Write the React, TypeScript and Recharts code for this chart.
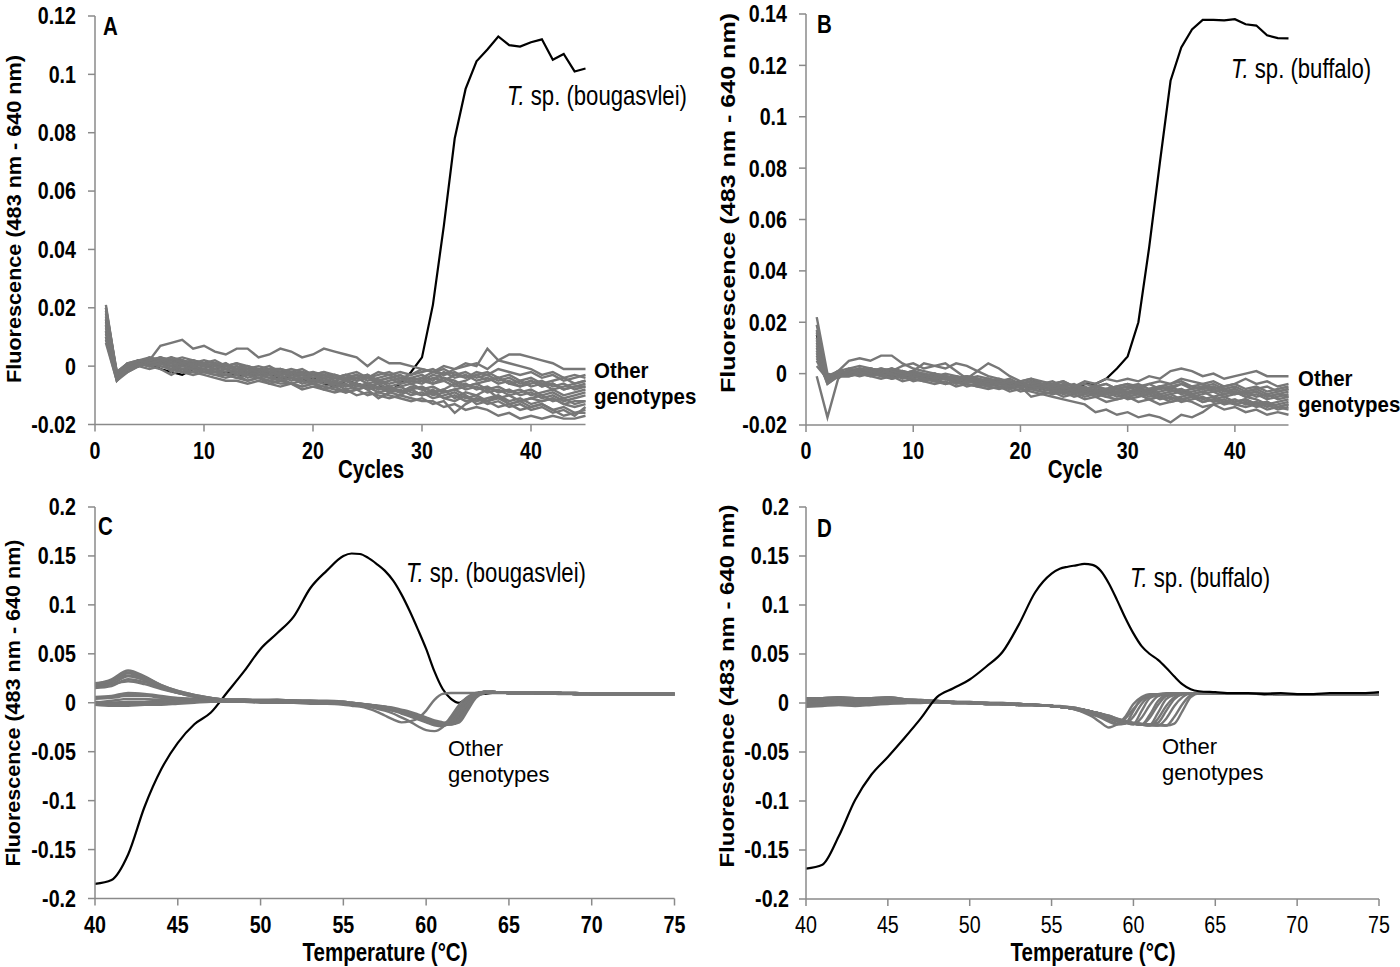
import { LineChart, Line, XAxis, YAxis } from "recharts";

// ---- panel A / B : amplification (cycles) ----
const cycles = [
  1, 2, 3, 4, 5, 6, 7, 8, 9, 10, 11, 12, 13, 14, 15, 16, 17, 18, 19, 20, 21, 22, 23,
  24, 25, 26, 27, 28, 29, 30, 31, 32, 33, 34, 35, 36, 37, 38, 39, 40, 41, 42, 43, 44, 45,
];

const aBougasvlei = [
  0.016, -0.003, -0.001, 0.0, 0.001, -0.001, -0.002, -0.003, -0.001, -0.001,
  -0.002, -0.002, -0.003, -0.003, -0.002, -0.003, -0.004, -0.004, -0.005, -0.004,
  -0.006, -0.007, -0.005, -0.006, -0.007, -0.006, -0.009, -0.006, -0.002, 0.003,
  0.021, 0.048, 0.078, 0.095, 0.1045, 0.1085, 0.113, 0.11, 0.1095, 0.111,
  0.112, 0.105, 0.107, 0.101, 0.102,
];

const aOthers = [
  [0.012, -0.004, 0.0, 0.001, 0.002, 0.007, 0.008, 0.009, 0.006, 0.007, 0.005, 0.004, 0.006, 0.006, 0.003, 0.004, 0.006, 0.005, 0.003, 0.004, 0.006, 0.005, 0.004, 0.003, 0.0, 0.003, 0.001, 0.001, 0.0, -0.001, -0.002, -0.001, -0.003, -0.002, -0.004, -0.003, -0.005, -0.004, -0.006, -0.005, -0.007, -0.006, -0.008, -0.007, -0.006],
  [0.02, -0.003, 0.001, 0.002, 0.001, 0.002, 0.001, 0.002, 0.0, 0.001, -0.001, 0.0, -0.001, -0.002, -0.001, -0.002, -0.003, -0.002, -0.003, -0.004, -0.003, -0.005, -0.004, -0.003, -0.004, -0.002, -0.003, -0.002, -0.003, -0.001, -0.002, 0.0, -0.001, 0.001, 0.0, 0.006, 0.002, 0.004, 0.004, 0.003, 0.002, 0.001, -0.001, -0.001, -0.001],
  [0.009, -0.005, -0.002, 0.0, 0.001, 0.0, -0.001, -0.002, -0.002, -0.003, -0.004, -0.005, -0.005, -0.006, -0.005, -0.006, -0.007, -0.006, -0.008, -0.007, -0.008, -0.009, -0.008, -0.01, -0.009, -0.01, -0.011, -0.01, -0.011, -0.012, -0.012, -0.014, -0.013, -0.015, -0.014, -0.015, -0.017, -0.016, -0.018, -0.017, -0.018, -0.017, -0.018, -0.018, -0.017],
  [0.014, -0.004, -0.001, 0.001, 0.002, 0.001, 0.0, -0.001, -0.001, -0.002, -0.003, -0.003, -0.004, -0.005, -0.004, -0.005, -0.006, -0.006, -0.007, -0.006, -0.007, -0.008, -0.009, -0.008, -0.01, -0.009, -0.01, -0.011, -0.012, -0.011, -0.013, -0.012, -0.016, -0.013, -0.011, -0.012, -0.01, -0.013, -0.012, -0.014, -0.013, -0.015, -0.014, -0.016, -0.015],
  [0.018, -0.003, 0.0, 0.002, 0.001, 0.003, 0.002, 0.001, 0.002, 0.001, 0.0, 0.001, -0.001, 0.0, -0.002, -0.001, -0.002, -0.003, -0.002, -0.004, -0.003, -0.004, -0.005, -0.004, -0.006, -0.005, -0.007, -0.006, -0.005, -0.006, -0.004, -0.005, -0.003, -0.004, -0.002, -0.003, -0.001, -0.002, -0.003, -0.002, -0.004, -0.003, -0.005, -0.004, -0.003],
  [0.011, -0.004, -0.001, 0.001, 0.0, 0.002, -0.002, 0.001, 0.0, -0.001, 0.001, -0.001, -0.002, -0.001, -0.003, -0.002, -0.004, -0.003, -0.004, -0.005, -0.004, -0.006, -0.005, -0.007, -0.006, -0.008, -0.007, -0.009, -0.008, -0.007, -0.009, -0.008, -0.006, -0.008, -0.007, -0.009, -0.008, -0.01, -0.009, -0.008, -0.01, -0.009, -0.011, -0.01, -0.009],
  [0.016, -0.002, 0.001, 0.0, 0.002, 0.001, 0.003, 0.002, 0.001, 0.002, 0.001, 0.0, 0.001, -0.001, 0.0, -0.001, -0.001, -0.002, -0.001, -0.003, -0.002, -0.003, -0.004, -0.003, -0.005, -0.004, -0.003, -0.005, -0.004, -0.003, -0.005, -0.002, -0.004, -0.003, -0.005, -0.004, -0.006, -0.005, -0.007, -0.006, -0.005, -0.007, -0.006, -0.008, -0.007],
  [0.013, -0.003, 0.0, 0.001, 0.0, 0.001, 0.0, -0.002, 0.0, -0.001, -0.002, -0.001, -0.003, -0.002, -0.003, -0.004, -0.003, -0.005, -0.004, -0.005, -0.006, -0.005, -0.007, -0.006, -0.008, -0.007, -0.009, -0.008, -0.01, -0.009, -0.011, -0.01, -0.009, -0.011, -0.01, -0.012, -0.011, -0.013, -0.012, -0.011, -0.012, -0.011, -0.013, -0.012, -0.012],
  [0.019, -0.002, 0.001, 0.002, 0.003, 0.002, 0.001, 0.002, 0.001, 0.0, 0.001, -0.001, 0.0, -0.002, -0.001, -0.002, -0.001, -0.003, -0.002, -0.003, -0.004, -0.003, -0.005, -0.004, -0.003, -0.005, -0.004, -0.006, -0.005, -0.004, -0.006, -0.005, -0.007, -0.006, -0.008, -0.007, -0.009, -0.008, -0.01, -0.009, -0.011, -0.01, -0.012, -0.011, -0.01],
  [0.01, -0.004, -0.002, 0.0, -0.001, 0.0, -0.001, -0.002, -0.003, -0.002, -0.003, -0.004, -0.003, -0.005, -0.004, -0.006, -0.005, -0.006, -0.007, -0.006, -0.008, -0.007, -0.009, -0.008, -0.007, -0.009, -0.008, -0.007, -0.009, -0.01, -0.008, -0.011, -0.01, -0.012, -0.011, -0.013, -0.012, -0.014, -0.013, -0.015, -0.014, -0.016, -0.015, -0.017, -0.014],
  [0.021, -0.003, 0.001, 0.001, 0.002, 0.003, 0.002, 0.003, 0.002, 0.001, 0.002, 0.0, 0.001, 0.0, -0.001, 0.0, -0.002, -0.001, -0.002, -0.003, -0.002, -0.004, -0.003, -0.002, -0.004, -0.003, -0.002, -0.004, -0.003, -0.002, -0.001, -0.003, -0.001, 0.0, 0.001, -0.001, 0.002, 0.001, 0.0, -0.001, -0.003, -0.002, -0.004, -0.003, -0.004],
  [0.008, -0.005, -0.001, 0.001, 0.0, -0.001, -0.003, -0.001, -0.002, -0.001, -0.002, -0.003, -0.002, -0.004, -0.003, -0.004, -0.005, -0.004, -0.006, -0.005, -0.005, -0.006, -0.007, -0.006, -0.008, -0.011, -0.009, -0.01, -0.008, -0.01, -0.009, -0.011, -0.012, -0.01, -0.013, -0.012, -0.014, -0.013, -0.015, -0.014, -0.013, -0.015, -0.017, -0.016, -0.016],
  [0.015, -0.004, 0.0, 0.002, 0.002, 0.001, 0.002, 0.0, 0.001, 0.0, -0.001, -0.002, -0.001, -0.003, -0.002, -0.003, -0.002, -0.004, -0.003, -0.005, -0.004, -0.006, -0.005, -0.006, -0.007, -0.006, -0.008, -0.007, -0.006, -0.008, -0.007, -0.009, -0.008, -0.007, -0.006, -0.008, -0.007, -0.009, -0.008, -0.01, -0.009, -0.008, -0.01, -0.009, -0.008],
  [0.017, -0.003, 0.001, 0.001, 0.003, 0.002, 0.0, 0.001, -0.001, 0.0, -0.001, 0.001, -0.002, -0.001, -0.002, -0.003, -0.002, -0.003, -0.004, -0.003, -0.005, -0.004, -0.003, -0.005, -0.004, -0.006, -0.005, -0.004, -0.006, -0.005, -0.003, -0.004, -0.006, -0.005, -0.003, -0.005, -0.004, -0.006, -0.005, -0.007, -0.006, -0.008, -0.007, -0.006, -0.005],
  [0.012, -0.005, -0.001, 0.0, 0.001, 0.002, 0.001, -0.001, 0.0, -0.002, -0.001, -0.003, -0.002, -0.003, -0.004, -0.003, -0.005, -0.004, -0.005, -0.006, -0.005, -0.007, -0.006, -0.008, -0.007, -0.006, -0.008, -0.009, -0.008, -0.01, -0.009, -0.008, -0.011, -0.009, -0.01, -0.008, -0.011, -0.01, -0.012, -0.011, -0.01, -0.012, -0.011, -0.013, -0.012],
  [0.02, -0.002, 0.0, 0.001, 0.002, 0.003, 0.001, 0.002, 0.0, 0.001, 0.0, -0.001, 0.0, -0.001, -0.002, -0.001, -0.003, -0.002, -0.003, -0.002, -0.004, -0.003, -0.004, -0.005, -0.004, -0.005, -0.006, -0.005, -0.004, -0.005, -0.006, -0.004, -0.005, -0.007, -0.006, -0.005, -0.004, -0.006, -0.007, -0.005, -0.007, -0.006, -0.008, -0.007, -0.007],
  [0.01, -0.004, -0.001, 0.001, 0.0, 0.001, -0.001, 0.0, -0.001, -0.002, -0.002, -0.003, -0.004, -0.003, -0.004, -0.005, -0.004, -0.006, -0.005, -0.006, -0.007, -0.006, -0.008, -0.007, -0.006, -0.008, -0.007, -0.009, -0.007, -0.008, -0.01, -0.009, -0.008, -0.01, -0.012, -0.011, -0.01, -0.012, -0.011, -0.013, -0.012, -0.011, -0.013, -0.014, -0.013],
  [0.014, -0.003, 0.0, 0.002, 0.001, 0.002, 0.003, 0.001, 0.002, 0.0, 0.001, 0.0, -0.001, 0.0, -0.001, -0.002, -0.001, -0.002, -0.003, -0.002, -0.003, -0.004, -0.003, -0.004, -0.003, -0.005, -0.004, -0.003, -0.005, -0.004, -0.002, -0.003, -0.002, -0.004, -0.003, -0.002, -0.004, -0.003, -0.005, -0.004, -0.006, -0.005, -0.004, -0.006, -0.005],
];

const bBuffalo = [
  0.015, -0.001, -0.001, 0.0, 0.0, 0.001, 0.0, -0.001, -0.001, -0.001,
  -0.002, -0.002, -0.002, -0.003, -0.003, -0.003, -0.004, -0.004, -0.004, -0.005,
  -0.005, -0.006, -0.005, -0.006, -0.007, -0.004, -0.004, -0.002, 0.002, 0.0067,
  0.02, 0.049, 0.082, 0.114, 0.127, 0.134, 0.1377, 0.1377, 0.1375, 0.138,
  0.136, 0.1355, 0.1317, 0.1306, 0.1305,
];

const bOthers = [
  [0.003, -0.002, 0.001, 0.005, 0.006, 0.005, 0.007, 0.007, 0.004, 0.002, 0.001, 0.0, -0.001, -0.002, -0.001, -0.002, -0.003, -0.003, -0.004, -0.005, -0.004, -0.006, -0.005, -0.006, -0.005, -0.007, -0.006, -0.007, -0.006, -0.008, -0.007, -0.006, -0.008, -0.007, -0.006, -0.008, -0.007, -0.009, -0.008, -0.007, -0.009, -0.008, -0.01, -0.009, -0.008],
  [-0.001, -0.017, -0.002, 0.002, 0.003, 0.002, 0.001, 0.002, 0.0, 0.001, 0.004, 0.003, 0.002, 0.004, 0.003, 0.001, -0.001, -0.002, -0.004, -0.003, -0.005, -0.004, -0.006, -0.005, -0.007, -0.006, -0.008, -0.007, -0.009, -0.008, -0.006, -0.007, -0.005, -0.006, -0.004, -0.005, -0.006, -0.005, -0.007, -0.006, -0.008, -0.007, -0.009, -0.008, -0.009],
  [0.022, 0.0, -0.001, 0.001, 0.002, 0.001, 0.002, 0.001, 0.003, 0.004, 0.002, 0.003, 0.004, 0.001, -0.002, 0.001, 0.004, 0.002, -0.001, -0.003, -0.002, -0.004, -0.003, -0.005, -0.004, -0.006, -0.005, -0.004, -0.006, -0.005, -0.007, -0.006, -0.005, -0.007, -0.006, -0.008, -0.007, -0.006, -0.008, -0.007, -0.009, -0.01, -0.012, -0.011, -0.01],
  [0.01, -0.003, 0.0, 0.0, 0.001, 0.0, 0.001, -0.001, 0.0, -0.001, -0.002, -0.001, -0.002, -0.003, -0.002, -0.003, -0.004, -0.003, -0.004, -0.003, -0.002, -0.003, -0.004, -0.003, -0.005, -0.003, -0.004, -0.002, -0.003, -0.002, -0.003, -0.001, -0.002, 0.001, 0.002, 0.001, -0.001, 0.0, -0.002, -0.001, 0.0, 0.001, -0.001, -0.001, -0.001],
  [0.008, -0.004, -0.001, 0.0, -0.001, 0.0, -0.001, -0.002, -0.001, -0.002, -0.003, -0.002, -0.004, -0.003, -0.004, -0.005, -0.004, -0.005, -0.006, -0.005, -0.009, -0.008, -0.009, -0.01, -0.011, -0.012, -0.015, -0.014, -0.016, -0.015, -0.017, -0.016, -0.017, -0.019, -0.016, -0.017, -0.015, -0.012, -0.011, -0.012, -0.013, -0.012, -0.014, -0.013, -0.014],
  [0.006, -0.002, -0.001, 0.001, 0.0, -0.001, -0.002, -0.001, -0.003, -0.002, -0.003, -0.004, -0.003, -0.005, -0.004, -0.005, -0.006, -0.005, -0.007, -0.006, -0.007, -0.008, -0.007, -0.009, -0.008, -0.01, -0.009, -0.011, -0.01, -0.009, -0.011, -0.01, -0.012, -0.011, -0.01, -0.011, -0.013, -0.012, -0.014, -0.013, -0.015, -0.014, -0.016, -0.015, -0.016],
  [0.012, -0.001, 0.0, 0.001, 0.002, 0.001, 0.0, 0.001, -0.001, 0.0, -0.001, -0.002, -0.001, -0.002, -0.003, -0.002, -0.003, -0.004, -0.003, -0.005, -0.004, -0.005, -0.006, -0.005, -0.006, -0.007, -0.006, -0.008, -0.007, -0.006, -0.005, -0.007, -0.006, -0.005, -0.007, -0.006, -0.005, -0.007, -0.006, -0.008, -0.007, -0.006, -0.008, -0.007, -0.006],
  [0.017, -0.002, 0.001, 0.0, 0.001, 0.002, 0.001, 0.0, 0.001, -0.001, 0.0, -0.001, -0.002, -0.001, -0.003, -0.002, -0.004, -0.003, -0.005, -0.004, -0.006, -0.005, -0.007, -0.006, -0.008, -0.007, -0.009, -0.008, -0.007, -0.009, -0.008, -0.01, -0.009, -0.008, -0.01, -0.009, -0.011, -0.01, -0.009, -0.011, -0.01, -0.012, -0.011, -0.013, -0.012],
  [0.014, -0.002, 0.0, 0.001, 0.0, 0.002, 0.001, 0.0, 0.001, 0.0, -0.001, 0.0, -0.001, -0.002, -0.001, -0.003, -0.002, -0.003, -0.004, -0.004, -0.003, -0.005, -0.004, -0.005, -0.006, -0.005, -0.007, -0.006, -0.005, -0.004, -0.006, -0.004, -0.003, -0.004, -0.002, -0.003, -0.004, -0.003, -0.005, -0.004, -0.002, -0.004, -0.003, -0.005, -0.004],
  [0.005, -0.003, -0.001, -0.001, 0.0, -0.001, 0.0, -0.002, -0.001, -0.003, -0.002, -0.003, -0.004, -0.003, -0.005, -0.004, -0.005, -0.006, -0.005, -0.007, -0.006, -0.007, -0.008, -0.007, -0.009, -0.008, -0.007, -0.009, -0.008, -0.01, -0.009, -0.008, -0.01, -0.009, -0.011, -0.01, -0.009, -0.011, -0.01, -0.012, -0.011, -0.013, -0.012, -0.014, -0.013],
  [0.013, -0.002, 0.0, 0.001, 0.001, 0.002, 0.001, 0.0, 0.0, -0.001, -0.001, -0.002, -0.001, -0.003, -0.002, -0.003, -0.004, -0.003, -0.005, -0.004, -0.005, -0.006, -0.005, -0.007, -0.006, -0.007, -0.008, -0.007, -0.006, -0.007, -0.008, -0.007, -0.009, -0.008, -0.007, -0.009, -0.008, -0.007, -0.009, -0.008, -0.007, -0.009, -0.008, -0.01, -0.009],
  [0.009, -0.003, -0.001, 0.0, 0.001, 0.0, 0.001, 0.0, -0.001, 0.0, -0.002, -0.001, -0.002, -0.003, -0.002, -0.004, -0.003, -0.004, -0.005, -0.004, -0.006, -0.005, -0.006, -0.007, -0.006, -0.008, -0.007, -0.006, -0.008, -0.007, -0.006, -0.008, -0.007, -0.006, -0.008, -0.007, -0.006, -0.005, -0.007, -0.006, -0.008, -0.007, -0.009, -0.008, -0.007],
  [0.016, -0.001, 0.001, 0.002, 0.001, 0.0, 0.001, 0.002, 0.0, 0.001, 0.0, -0.001, 0.0, -0.001, -0.002, -0.001, -0.002, -0.003, -0.002, -0.004, -0.003, -0.004, -0.005, -0.004, -0.005, -0.006, -0.005, -0.004, -0.006, -0.005, -0.004, -0.006, -0.005, -0.004, -0.003, -0.005, -0.004, -0.006, -0.005, -0.004, -0.006, -0.005, -0.007, -0.006, -0.005],
  [0.007, -0.004, -0.001, -0.001, 0.0, 0.001, -0.001, 0.0, -0.002, -0.001, -0.002, -0.003, -0.002, -0.004, -0.003, -0.004, -0.005, -0.004, -0.006, -0.005, -0.006, -0.007, -0.006, -0.008, -0.007, -0.009, -0.008, -0.009, -0.01, -0.009, -0.008, -0.01, -0.009, -0.011, -0.01, -0.009, -0.011, -0.01, -0.012, -0.011, -0.01, -0.012, -0.011, -0.013, -0.012],
  [0.011, -0.002, 0.0, 0.001, 0.0, 0.001, 0.002, 0.001, 0.0, 0.001, -0.001, 0.0, -0.001, -0.002, -0.001, -0.002, -0.003, -0.002, -0.003, -0.004, -0.003, -0.005, -0.004, -0.003, -0.005, -0.004, -0.005, -0.006, -0.005, -0.004, -0.005, -0.004, -0.006, -0.005, -0.004, -0.006, -0.005, -0.004, -0.006, -0.005, -0.007, -0.006, -0.005, -0.007, -0.006],
  [0.019, -0.002, 0.001, 0.0, 0.002, 0.001, 0.0, 0.002, 0.001, 0.0, -0.001, 0.0, -0.002, -0.001, -0.002, -0.003, -0.002, -0.004, -0.003, -0.004, -0.005, -0.004, -0.006, -0.005, -0.007, -0.006, -0.005, -0.007, -0.006, -0.008, -0.007, -0.009, -0.008, -0.01, -0.009, -0.008, -0.01, -0.009, -0.011, -0.01, -0.012, -0.011, -0.013, -0.012, -0.011],
];

// ---- panel C / D : melting curves (temperature) ----
const temps = [
  40, 41, 42, 43, 44, 45, 46, 47, 48, 49, 50, 51, 52, 53, 54, 55,
  55.5, 56, 56.5, 57, 57.5, 58, 58.5, 59, 59.5, 60, 60.5, 61, 61.5, 62, 62.5, 63, 63.5, 64,
  65, 66, 67, 68, 69, 70, 71, 72, 73, 74, 75,
];

const cBougasvlei = [
  -0.185, -0.181, -0.155, -0.106, -0.068, -0.041, -0.022, -0.01, 0.011, 0.032, 0.055, 0.071, 0.088, 0.117, 0.135, 0.15,
  0.1525, 0.152, 0.148, 0.142, 0.135, 0.125, 0.111, 0.094, 0.075, 0.055, 0.032, 0.014, 0.004, 0.0, 0.005, 0.008, 0.009, 0.01,
  0.01, 0.01, 0.009, 0.009, 0.009, 0.009, 0.009, 0.009, 0.009, 0.009, 0.009,
];

const cOthers = [
  [0.019, 0.024, 0.033, 0.027, 0.018, 0.012, 0.008, 0.005, 0.003, 0.003, 0.003, 0.003, 0.002, 0.002, 0.002, 0.001, 0.0, -0.001, -0.002, -0.003, -0.005, -0.007, -0.01, -0.013, -0.016, -0.019, -0.021, -0.022, -0.019, -0.009, 0.002, 0.009, 0.011, 0.011, 0.01, 0.01, 0.01, 0.01, 0.009, 0.009, 0.009, 0.009, 0.009, 0.009, 0.009],
  [0.017, 0.021, 0.03, 0.025, 0.017, 0.011, 0.007, 0.004, 0.003, 0.003, 0.002, 0.003, 0.002, 0.002, 0.001, 0.001, 0.0, -0.001, -0.002, -0.003, -0.004, -0.006, -0.008, -0.011, -0.014, -0.017, -0.02, -0.022, -0.022, -0.015, -0.003, 0.007, 0.011, 0.011, 0.01, 0.01, 0.01, 0.009, 0.009, 0.009, 0.009, 0.009, 0.009, 0.009, 0.008],
  [0.016, 0.019, 0.027, 0.023, 0.016, 0.01, 0.006, 0.004, 0.003, 0.002, 0.002, 0.002, 0.002, 0.001, 0.001, 0.0, -0.001, -0.002, -0.003, -0.004, -0.006, -0.008, -0.011, -0.014, -0.017, -0.02, -0.023, -0.024, -0.018, -0.006, 0.004, 0.009, 0.011, 0.011, 0.01, 0.01, 0.01, 0.01, 0.01, 0.009, 0.009, 0.009, 0.009, 0.009, 0.009],
  [0.015, 0.017, 0.024, 0.021, 0.015, 0.01, 0.006, 0.004, 0.002, 0.002, 0.002, 0.001, 0.001, 0.001, 0.0, 0.0, -0.001, -0.002, -0.003, -0.004, -0.005, -0.007, -0.009, -0.012, -0.015, -0.018, -0.021, -0.023, -0.02, -0.011, 0.001, 0.008, 0.011, 0.011, 0.01, 0.01, 0.01, 0.01, 0.009, 0.009, 0.009, 0.009, 0.009, 0.009, 0.009],
  [0.018, 0.019, 0.022, 0.019, 0.014, 0.01, 0.007, 0.005, 0.003, 0.003, 0.002, 0.002, 0.002, 0.001, 0.001, 0.0, -0.001, -0.002, -0.003, -0.004, -0.006, -0.008, -0.01, -0.013, -0.016, -0.019, -0.022, -0.023, -0.021, -0.013, -0.001, 0.007, 0.01, 0.011, 0.01, 0.01, 0.01, 0.01, 0.009, 0.009, 0.009, 0.009, 0.009, 0.009, 0.009],
  [0.006, 0.007, 0.01, 0.009, 0.007, 0.005, 0.004, 0.003, 0.002, 0.002, 0.001, 0.001, 0.001, 0.001, 0.0, 0.0, -0.001, -0.001, -0.002, -0.003, -0.004, -0.005, -0.007, -0.009, -0.012, -0.015, -0.018, -0.02, -0.022, -0.02, -0.008, 0.005, 0.01, 0.011, 0.01, 0.01, 0.01, 0.01, 0.01, 0.009, 0.009, 0.009, 0.009, 0.009, 0.009],
  [0.004, 0.005, 0.007, 0.007, 0.005, 0.004, 0.003, 0.002, 0.002, 0.001, 0.001, 0.001, 0.0, 0.0, 0.0, -0.001, -0.002, -0.003, -0.004, -0.005, -0.006, -0.008, -0.01, -0.013, -0.016, -0.019, -0.021, -0.021, -0.016, -0.005, 0.004, 0.009, 0.011, 0.011, 0.01, 0.01, 0.01, 0.01, 0.009, 0.009, 0.009, 0.009, 0.009, 0.009, 0.009],
  [-0.001, -0.002, -0.002, -0.001, -0.001, 0.0, 0.001, 0.001, 0.001, 0.001, 0.001, 0.0, 0.0, 0.0, -0.001, -0.001, -0.002, -0.002, -0.003, -0.004, -0.005, -0.007, -0.009, -0.011, -0.014, -0.017, -0.019, -0.021, -0.021, -0.013, -0.001, 0.008, 0.011, 0.011, 0.01, 0.01, 0.01, 0.01, 0.01, 0.009, 0.009, 0.009, 0.009, 0.009, 0.009],
  [-0.002, -0.003, -0.003, -0.002, -0.002, -0.001, 0.0, 0.001, 0.001, 0.001, 0.0, 0.0, 0.0, -0.001, -0.001, -0.002, -0.003, -0.004, -0.006, -0.009, -0.013, -0.017, -0.02, -0.019, -0.016, -0.008, 0.003, 0.009, 0.01, 0.01, 0.01, 0.01, 0.01, 0.01, 0.01, 0.01, 0.01, 0.01, 0.01, 0.009, 0.009, 0.009, 0.009, 0.009, 0.009],
  [0.001, 0.0, 0.001, 0.001, 0.002, 0.002, 0.002, 0.002, 0.002, 0.001, 0.001, 0.001, 0.001, 0.0, 0.0, -0.001, -0.002, -0.003, -0.004, -0.006, -0.008, -0.011, -0.015, -0.019, -0.024, -0.028, -0.029, -0.025, -0.014, -0.002, 0.006, 0.01, 0.011, 0.011, 0.01, 0.01, 0.01, 0.01, 0.009, 0.009, 0.009, 0.009, 0.009, 0.009, 0.009],
  [0.0, 0.002, 0.004, 0.004, 0.003, 0.003, 0.002, 0.002, 0.001, 0.001, 0.001, 0.001, 0.001, 0.0, 0.0, -0.001, -0.001, -0.002, -0.003, -0.004, -0.005, -0.006, -0.008, -0.011, -0.014, -0.017, -0.02, -0.022, -0.022, -0.018, -0.006, 0.006, 0.01, 0.011, 0.01, 0.01, 0.01, 0.01, 0.009, 0.009, 0.009, 0.009, 0.009, 0.009, 0.009],
  [0.018, 0.022, 0.031, 0.026, 0.018, 0.012, 0.008, 0.005, 0.003, 0.003, 0.002, 0.002, 0.002, 0.002, 0.001, 0.001, 0.0, -0.001, -0.002, -0.003, -0.004, -0.006, -0.009, -0.012, -0.015, -0.018, -0.021, -0.023, -0.021, -0.012, 0.0, 0.008, 0.011, 0.011, 0.01, 0.01, 0.01, 0.01, 0.009, 0.009, 0.009, 0.009, 0.009, 0.009, 0.009],
  [0.005, 0.006, 0.009, 0.008, 0.006, 0.004, 0.003, 0.002, 0.002, 0.001, 0.001, 0.001, 0.001, 0.0, 0.0, 0.0, -0.001, -0.002, -0.003, -0.004, -0.005, -0.007, -0.009, -0.012, -0.015, -0.018, -0.021, -0.022, -0.02, -0.01, 0.002, 0.009, 0.011, 0.011, 0.01, 0.01, 0.01, 0.01, 0.009, 0.009, 0.009, 0.009, 0.009, 0.009, 0.009],
  [0.0, -0.001, -0.001, 0.0, 0.0, 0.001, 0.001, 0.001, 0.001, 0.001, 0.001, 0.001, 0.0, 0.0, 0.0, -0.001, -0.001, -0.002, -0.003, -0.004, -0.005, -0.006, -0.008, -0.01, -0.013, -0.016, -0.019, -0.021, -0.022, -0.017, -0.005, 0.007, 0.01, 0.011, 0.01, 0.01, 0.01, 0.01, 0.009, 0.009, 0.009, 0.009, 0.009, 0.009, 0.009],
  [0.02, 0.022, 0.028, 0.024, 0.017, 0.011, 0.007, 0.004, 0.003, 0.003, 0.002, 0.002, 0.002, 0.001, 0.001, 0.0, -0.001, -0.002, -0.003, -0.004, -0.005, -0.007, -0.01, -0.013, -0.016, -0.019, -0.022, -0.022, -0.017, -0.007, 0.003, 0.009, 0.011, 0.011, 0.01, 0.01, 0.01, 0.01, 0.009, 0.009, 0.009, 0.009, 0.009, 0.009, 0.009],
];

const dBuffalo = [
  -0.169, -0.165, -0.136, -0.099, -0.073, -0.055, -0.036, -0.016, 0.006, 0.015, 0.024, 0.037, 0.052, 0.08, 0.113, 0.132,
  0.137, 0.139, 0.1405, 0.142, 0.141, 0.135, 0.122, 0.105, 0.087, 0.071, 0.058, 0.05, 0.044, 0.036, 0.027, 0.019, 0.014, 0.012,
  0.011, 0.01, 0.01, 0.009, 0.01, 0.009, 0.009, 0.01, 0.01, 0.01, 0.011,
];

const dOthers = [
  [0.005, 0.005, 0.006, 0.005, 0.005, 0.006, 0.004, 0.003, 0.002, 0.001, 0.001, 0.0, 0.0, -0.001, -0.002, -0.003, -0.004, -0.005, -0.007, -0.01, -0.014, -0.02, -0.025, -0.022, -0.016, -0.006, 0.003, 0.008, 0.009, 0.009, 0.009, 0.01, 0.01, 0.01, 0.01, 0.01, 0.01, 0.009, 0.009, 0.009, 0.009, 0.009, 0.009, 0.009, 0.009],
  [0.003, 0.004, 0.005, 0.004, 0.004, 0.005, 0.003, 0.002, 0.002, 0.001, 0.0, 0.0, -0.001, -0.001, -0.002, -0.003, -0.004, -0.005, -0.006, -0.008, -0.011, -0.014, -0.018, -0.021, -0.014, -0.001, 0.006, 0.009, 0.009, 0.009, 0.01, 0.01, 0.01, 0.01, 0.01, 0.01, 0.01, 0.01, 0.009, 0.009, 0.009, 0.009, 0.009, 0.009, 0.009],
  [0.001, 0.002, 0.003, 0.002, 0.002, 0.004, 0.002, 0.002, 0.001, 0.001, 0.0, 0.0, -0.001, -0.001, -0.002, -0.003, -0.004, -0.005, -0.006, -0.008, -0.01, -0.013, -0.016, -0.019, -0.021, -0.014, -0.001, 0.007, 0.009, 0.01, 0.01, 0.01, 0.01, 0.01, 0.01, 0.01, 0.01, 0.01, 0.009, 0.009, 0.009, 0.009, 0.009, 0.009, 0.009],
  [-0.001, 0.0, 0.001, 0.0, 0.001, 0.002, 0.001, 0.001, 0.001, 0.0, 0.0, -0.001, -0.001, -0.002, -0.002, -0.003, -0.004, -0.005, -0.006, -0.008, -0.01, -0.012, -0.015, -0.018, -0.02, -0.022, -0.015, -0.002, 0.007, 0.009, 0.01, 0.01, 0.01, 0.01, 0.01, 0.01, 0.01, 0.009, 0.009, 0.009, 0.009, 0.009, 0.009, 0.009, 0.009],
  [-0.003, -0.002, -0.001, -0.002, -0.001, 0.0, 0.0, 0.001, 0.001, 0.0, 0.0, -0.001, -0.001, -0.002, -0.002, -0.003, -0.004, -0.005, -0.006, -0.007, -0.009, -0.012, -0.015, -0.018, -0.02, -0.021, -0.022, -0.015, -0.002, 0.007, 0.009, 0.01, 0.01, 0.01, 0.01, 0.01, 0.01, 0.01, 0.009, 0.009, 0.009, 0.009, 0.009, 0.009, 0.009],
  [0.004, 0.005, 0.006, 0.005, 0.005, 0.006, 0.004, 0.003, 0.002, 0.001, 0.001, 0.0, 0.0, -0.001, -0.002, -0.003, -0.004, -0.005, -0.006, -0.007, -0.009, -0.011, -0.014, -0.017, -0.02, -0.021, -0.022, -0.023, -0.016, -0.003, 0.006, 0.009, 0.01, 0.01, 0.01, 0.01, 0.01, 0.01, 0.009, 0.009, 0.009, 0.009, 0.009, 0.009, 0.009],
  [-0.004, -0.003, -0.002, -0.003, -0.002, -0.001, 0.0, 0.0, 0.001, 0.0, 0.0, -0.001, -0.001, -0.002, -0.002, -0.003, -0.004, -0.004, -0.005, -0.007, -0.009, -0.011, -0.014, -0.017, -0.019, -0.021, -0.022, -0.023, -0.023, -0.016, -0.003, 0.006, 0.01, 0.01, 0.01, 0.01, 0.01, 0.01, 0.009, 0.009, 0.009, 0.009, 0.009, 0.009, 0.009],
  [0.002, 0.003, 0.004, 0.003, 0.003, 0.005, 0.003, 0.002, 0.002, 0.001, 0.0, 0.0, -0.001, -0.001, -0.002, -0.003, -0.004, -0.005, -0.006, -0.007, -0.009, -0.011, -0.013, -0.016, -0.019, -0.021, -0.022, -0.022, -0.023, -0.023, -0.014, -0.001, 0.008, 0.01, 0.01, 0.01, 0.01, 0.01, 0.009, 0.009, 0.009, 0.009, 0.009, 0.009, 0.009],
  [0.0, 0.001, 0.002, 0.001, 0.002, 0.003, 0.002, 0.001, 0.001, 0.0, 0.0, -0.001, -0.001, -0.001, -0.002, -0.003, -0.003, -0.004, -0.005, -0.007, -0.009, -0.011, -0.014, -0.017, -0.019, -0.021, -0.022, -0.012, 0.002, 0.008, 0.009, 0.01, 0.01, 0.01, 0.01, 0.01, 0.01, 0.01, 0.009, 0.009, 0.009, 0.009, 0.009, 0.009, 0.009],
  [-0.002, -0.001, 0.0, -0.001, 0.0, 0.001, 0.001, 0.001, 0.001, 0.0, 0.0, -0.001, -0.001, -0.002, -0.002, -0.003, -0.004, -0.005, -0.006, -0.007, -0.009, -0.011, -0.014, -0.017, -0.019, -0.021, -0.022, -0.022, -0.02, -0.008, 0.004, 0.009, 0.01, 0.01, 0.01, 0.01, 0.01, 0.01, 0.009, 0.009, 0.009, 0.009, 0.009, 0.009, 0.009],
  [0.003, 0.004, 0.005, 0.004, 0.004, 0.005, 0.003, 0.002, 0.002, 0.001, 0.0, 0.0, -0.001, -0.001, -0.002, -0.003, -0.004, -0.005, -0.006, -0.007, -0.009, -0.011, -0.014, -0.017, -0.02, -0.021, -0.022, -0.022, -0.01, 0.004, 0.008, 0.009, 0.01, 0.01, 0.01, 0.01, 0.01, 0.01, 0.009, 0.009, 0.009, 0.009, 0.009, 0.009, 0.009],
  [-0.002, -0.002, -0.001, -0.002, -0.001, 0.0, 0.0, 0.001, 0.001, 0.0, 0.0, -0.001, -0.001, -0.002, -0.002, -0.003, -0.004, -0.005, -0.006, -0.008, -0.01, -0.012, -0.015, -0.018, -0.02, -0.021, -0.008, 0.005, 0.008, 0.009, 0.01, 0.01, 0.01, 0.01, 0.01, 0.01, 0.01, 0.01, 0.009, 0.009, 0.009, 0.009, 0.009, 0.009, 0.009],
  [0.001, 0.002, 0.003, 0.002, 0.003, 0.004, 0.002, 0.002, 0.001, 0.001, 0.0, 0.0, -0.001, -0.001, -0.002, -0.003, -0.004, -0.005, -0.006, -0.007, -0.009, -0.011, -0.013, -0.016, -0.018, -0.02, -0.021, -0.022, -0.022, -0.023, -0.021, -0.008, 0.006, 0.01, 0.01, 0.01, 0.01, 0.01, 0.009, 0.009, 0.009, 0.009, 0.009, 0.009, 0.009],
  [0.004, 0.004, 0.005, 0.004, 0.004, 0.005, 0.003, 0.002, 0.001, 0.001, 0.0, -0.001, -0.001, -0.002, -0.002, -0.003, -0.004, -0.005, -0.007, -0.009, -0.012, -0.015, -0.019, -0.022, -0.021, -0.008, 0.005, 0.008, 0.009, 0.009, 0.01, 0.01, 0.01, 0.01, 0.01, 0.01, 0.01, 0.01, 0.009, 0.009, 0.009, 0.009, 0.009, 0.009, 0.009],
];

const cycleTicks = [0, 10, 20, 30, 40];
const tempTicks = [40, 45, 50, 55, 60, 65, 70, 75];
const aTicks = [-0.02, 0, 0.02, 0.04, 0.06, 0.08, 0.1, 0.12];
const bTicks = [-0.02, 0, 0.02, 0.04, 0.06, 0.08, 0.1, 0.12, 0.14];
const meltTicks = [-0.2, -0.15, -0.1, -0.05, 0, 0.05, 0.1, 0.15, 0.2];

const FONT = "'Liberation Sans', Arial, Helvetica, sans-serif";
const GRAY = "#777777";
const AXIS = "#8a8a8a";
const SQUEEZE = 0.82; // the printed figure uses a condensed face

const toRows = (xs: number[], main: number[], others: number[][]) =>
  xs.map((x, i) => {
    const row: Record<string, number> = { x, main: main[i] };
    others.forEach((s, j) => {
      row["g" + j] = s[i];
    });
    return row;
  });

// condensed tick label
const makeTick = (side: "x" | "y", bold: boolean) => (props: any) => {
  const { x, y, payload } = props;
  return (
    <g transform={`translate(${x},${y})`}>
      <text
        transform={`scale(${SQUEEZE},1)`}
        textAnchor={side === "y" ? "end" : "middle"}
        dy={side === "y" ? "0.35em" : "0.71em"}
        fontSize={24}
        fontWeight={bold ? 700 : 400}
        fontFamily={FONT}
        fill="#000"
      >
        {String(payload.value)}
      </text>
    </g>
  );
};

type PanelProps = {
  xs: number[];
  main: number[];
  others: number[][];
  margin: { top: number; right: number; bottom: number; left: number };
  xDomain: [number, number];
  xTicks: number[];
  yDomain: [number, number];
  yTicks: number[];
  yTickMargin: number;
  xTickBold?: boolean;
  smooth?: boolean;
  mainOnTop?: boolean;
};

function Panel(p: PanelProps) {
  const data = toRows(p.xs, p.main, p.others);
  const curve = p.smooth ? "monotone" : "linear";
  const grays = p.others.map((_, j) => (
    <Line
      key={"g" + j}
      dataKey={"g" + j}
      type={curve}
      stroke={GRAY}
      strokeWidth={2.4}
      dot={false}
      activeDot={false}
      isAnimationActive={false}
    />
  ));
  const main = (
    <Line
      key="main"
      dataKey="main"
      type={curve}
      stroke="#000"
      strokeWidth={2.2}
      dot={false}
      activeDot={false}
      isAnimationActive={false}
    />
  );
  return (
    <div style={{ position: "absolute", left: 0, top: 0 }}>
      <LineChart width={1400} height={967} data={data} margin={p.margin}>
        <XAxis
          type="number"
          dataKey="x"
          domain={p.xDomain}
          ticks={p.xTicks}
          interval={0}
          height={30}
          tickSize={7}
          tickMargin={10}
          axisLine={{ stroke: AXIS, strokeWidth: 1.5 }}
          tickLine={{ stroke: AXIS, strokeWidth: 1.5 }}
          tick={makeTick("x", p.xTickBold !== false)}
        />
        <YAxis
          type="number"
          domain={p.yDomain}
          ticks={p.yTicks}
          interval={0}
          width={95}
          tickSize={7}
          tickMargin={p.yTickMargin}
          axisLine={{ stroke: AXIS, strokeWidth: 1.5 }}
          tickLine={{ stroke: AXIS, strokeWidth: 1.5 }}
          tick={makeTick("y", true)}
        />
        {p.mainOnTop ? [...grays, main] : [main, ...grays]}
      </LineChart>
    </div>
  );
}

const YTitle = ({ cx, cy, len }: { cx: number; cy: number; len: number }) => (
  <text
    transform={`translate(${cx},${cy}) rotate(-90)`}
    textAnchor="middle"
    dominantBaseline="central"
    fontSize={21}
    fontWeight={700}
    textLength={len}
    lengthAdjust="spacingAndGlyphs"
  >
    Fluorescence (483 nm - 640 nm)
  </text>
);

// condensed free text
const Cond = ({
  x,
  y,
  size,
  bold,
  anchor,
  squeeze,
  children,
}: {
  x: number;
  y: number;
  size: number;
  bold?: boolean;
  anchor?: "start" | "middle" | "end";
  squeeze?: number;
  children: any;
}) => (
  <g transform={`translate(${x},${y})`}>
    <text
      transform={`scale(${squeeze ?? SQUEEZE},1)`}
      fontSize={size}
      fontWeight={bold ? 700 : 400}
      textAnchor={anchor || "start"}
    >
      {children}
    </text>
  </g>
);

const Species = ({ x, y, name }: { x: number; y: number; name: string }) => (
  <Cond x={x} y={y} size={27}>
    <tspan fontStyle="italic">T.</tspan>
    {" sp. (" + name + ")"}
  </Cond>
);

const Others = ({ x, y, bold }: { x: number; y: number; bold?: boolean }) => (
  <>
    <Cond x={x} y={y - 1} size={22} bold={bold} squeeze={bold ? 0.93 : 1}>Other</Cond>
    <Cond x={x} y={y + 24.5} size={22} bold={bold} squeeze={bold ? 0.93 : 1}>genotypes</Cond>
  </>
);

export default function App() {
  return (
    <div style={{ position: "absolute", left: 0, top: 0, width: 1400, height: 967, background: "#fff", fontFamily: FONT }}>
      <Panel
        xs={cycles}
        main={aBougasvlei}
        others={aOthers}
        margin={{ top: 16, right: 814.5, bottom: 512.5, left: 0 }}
        xDomain={[0, 45]}
        xTicks={cycleTicks}
        yDomain={[-0.02, 0.12]}
        yTicks={aTicks}
        yTickMargin={12}
      />
      <Panel
        xs={cycles}
        main={bBuffalo}
        others={bOthers}
        margin={{ top: 14, right: 111.5, bottom: 512, left: 711 }}
        xDomain={[0, 45]}
        xTicks={cycleTicks}
        yDomain={[-0.02, 0.14]}
        yTicks={bTicks}
        yTickMargin={12}
      />
      <Panel
        xs={temps}
        main={cBougasvlei}
        others={cOthers}
        margin={{ top: 507, right: 725.5, bottom: 38.5, left: 0 }}
        xDomain={[40, 75]}
        xTicks={tempTicks}
        yDomain={[-0.2, 0.2]}
        yTicks={meltTicks}
        yTickMargin={12}
        smooth
      />
      <Panel
        xs={temps}
        main={dBuffalo}
        others={dOthers}
        margin={{ top: 507, right: 21, bottom: 38, left: 711 }}
        xDomain={[40, 75]}
        xTicks={tempTicks}
        yDomain={[-0.2, 0.2]}
        yTicks={meltTicks}
        yTickMargin={10}
        xTickBold={false}
        smooth
        mainOnTop
      />
      <svg
        width={1400}
        height={967}
        style={{ position: "absolute", left: 0, top: 0, pointerEvents: "none" }}
        fontFamily={FONT}
        fill="#000"
      >
        <Cond x={103} y={35} size={25} bold>A</Cond>
        <Cond x={817} y={33} size={25} bold>B</Cond>
        <Cond x={98} y={535} size={25} bold>C</Cond>
        <Cond x={817} y={537} size={25} bold>D</Cond>

        <YTitle cx={13} cy={219} len={328} />
        <YTitle cx={727} cy={203} len={380} />
        <YTitle cx={12} cy={703} len={327} />
        <YTitle cx={726} cy={686} len={363} />

        <Cond x={371} y={478} size={25} bold anchor="middle">Cycles</Cond>
        <Cond x={1075} y={478} size={25} bold anchor="middle">Cycle</Cond>
        <Cond x={385} y={961} size={25} bold anchor="middle">Temperature (°C)</Cond>
        <Cond x={1093} y={961} size={25} bold anchor="middle">Temperature (°C)</Cond>

        <Species x={507} y={105} name="bougasvlei" />
        <Species x={1231} y={78} name="buffalo" />
        <Species x={406} y={582} name="bougasvlei" />
        <Species x={1130} y={587} name="buffalo" />

        <Others x={594} y={379} bold />
        <Others x={1298} y={387} bold />
        <Others x={448} y={757} />
        <Others x={1162} y={755} />
      </svg>
    </div>
  );
}
